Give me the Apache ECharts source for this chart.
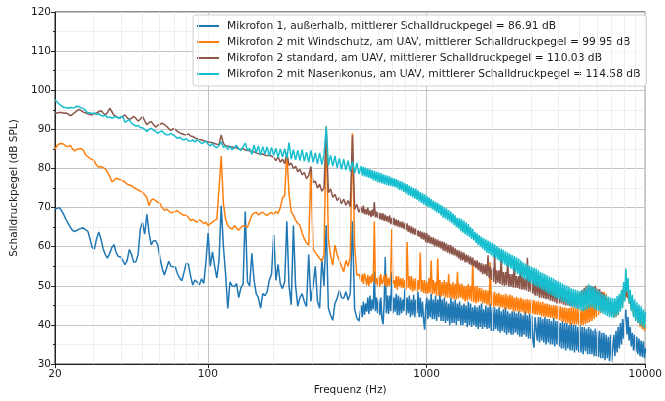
<!DOCTYPE html>
<html>
<head>
<meta charset="utf-8">
<script src="https://cdn.jsdelivr.net/npm/echarts@6/dist/echarts.min.js"></script>
<style>
html, body { margin: 0; padding: 0; background: #fff; }
#main { width: 665px; height: 401px; }
</style>
</head>
<body>
<div id="main"></div>
<script>
// Frequenzraster: bis ~500 Hz 100 Stuetzstellen pro Dekade, darueber 200 pro Dekade
var freqs = [];
for (var s = 0; s < 140; s++) freqs.push(20 * Math.pow(10, s / 100));
for (var s = 280; s <= 540; s++) freqs.push(20 * Math.pow(10, s / 200));

var names = [
  'Mikrofon 1, außerhalb, mittlerer Schalldruckpegel = 86.91 dB',
  'Mikrofon 2 mit Windschutz, am UAV, mittlerer Schalldruckpegel = 99.95 dB',
  'Mikrofon 2 standard, am UAV, mittlerer Schalldruckpegel = 110.03 dB',
  'Mikrofon 2 mit Nasenkonus, am UAV, mittlerer Schalldruckpegel = 114.58 dB'
];
var colors = ['#1f77b4', '#ff7f0e', '#8c564b', '#17becf'];

// Mikrofon 1, aussen
var mic1 = [
  69.7, 69.8, 70.0, 69.2, 68.2, 67.0, 66.0, 65.0, 64.2, 63.9,
  64.2, 64.5, 64.7, 64.8, 64.3, 64.0, 62.0, 59.8, 59.4, 62.0,
  63.8, 62.0, 59.5, 58.0, 57.1, 58.3, 59.8, 60.5, 58.5, 57.5,
  57.4, 56.5, 55.4, 56.5, 59.3, 58.0, 56.0, 56.2, 58.0, 64.5,
  66.2, 63.2, 68.3, 63.5, 60.5, 61.5, 61.6, 60.5, 57.0, 54.5,
  52.8, 54.5, 56.3, 55.0, 54.9, 54.8, 53.1, 52.0, 51.3, 53.5,
  55.8, 55.5, 52.5, 50.2, 51.5, 51.0, 50.2, 51.8, 50.6, 56.0,
  63.5, 55.0, 58.7, 55.0, 52.0, 56.5, 70.5, 60.0, 53.0, 44.2,
  51.0, 50.0, 49.8, 50.6, 47.0, 49.5, 50.5, 69.0, 51.0, 50.0,
  58.3, 51.5, 48.0, 47.0, 44.3, 48.0, 47.5, 48.5, 51.5, 53.0,
  63.0, 51.4, 55.5, 50.5, 49.3, 51.0, 66.5, 50.0, 45.2, 65.4,
  50.0, 44.8, 47.0, 48.0, 46.0, 44.7, 58.0, 46.0, 50.0, 55.0,
  46.0, 44.3, 57.0, 50.0, 65.5, 44.3, 42.5, 41.2, 45.5, 46.8,
  48.9, 47.0, 46.8, 48.5, 46.4, 48.0, 66.5, 44.0, 41.8, 41.0,
  // ab ~500 Hz, halbe Schritte
  45.0, 42.0, 46.0, 42.6, 45.5, 43.4, 47.0, 42.8, 47.5, 43.5,
  46.5, 44.0, 53.6, 43.5, 47.0, 43.0, 46.5, 42.5, 47.0, 41.5,
  40.2, 45.5, 57.4, 43.0, 47.5, 42.8, 47.5, 43.5, 53.6, 43.0,
  47.0, 43.4, 48.0, 42.5, 47.5, 42.5, 47.0, 43.0, 46.5, 43.5,
  49.4, 42.5, 47.0, 43.0, 47.5, 42.0, 46.5, 42.5, 47.7, 42.0,
  46.5, 43.0, 48.5, 42.0, 47.0, 42.0, 46.0, 41.5, 38.8, 44.5,
  47.0, 41.5, 46.5, 42.0, 48.0, 41.5, 46.5, 41.5, 47.5, 41.0,
  46.5, 42.0, 48.5, 41.0, 46.5, 41.0, 47.0, 40.5, 46.0, 41.0,
  45.5, 40.0, 47.0, 40.5, 46.0, 40.5, 46.5, 40.0, 45.5, 41.0,
  46.0, 40.0, 45.0, 40.0, 45.5, 40.5, 45.0, 39.5, 46.0, 40.0,
  45.5, 39.5, 44.5, 40.0, 45.0, 39.5, 44.5, 39.0, 45.0, 39.5,
  45.5, 39.0, 44.0, 39.5, 45.0, 39.0, 44.5, 39.2, 45.5, 38.5,
  44.5, 38.5, 44.5, 39.0, 44.0, 38.5, 44.5, 38.0, 43.5, 38.5,
  44.0, 38.0, 44.5, 37.5, 43.5, 38.0, 43.0, 37.5, 43.5, 37.5,
  43.5, 38.0, 43.0, 37.5, 43.5, 37.0, 43.0, 37.0, 42.5, 37.5,
  43.5, 37.0, 42.5, 36.5, 43.0, 36.5, 42.5, 36.0, 34.2, 42.0,
  42.5, 36.0, 42.0, 35.5, 42.0, 36.0, 41.5, 35.5, 42.0, 35.0,
  41.5, 35.5, 41.5, 35.0, 41.0, 35.0, 41.8, 34.5, 41.0, 35.0,
  41.0, 34.5, 40.5, 34.0, 41.0, 34.0, 40.5, 33.5, 40.5, 34.0,
  40.0, 33.5, 40.5, 33.5, 40.0, 33.0, 40.0, 33.5, 39.5, 33.0,
  40.0, 33.0, 39.5, 32.5, 39.5, 33.3, 39.0, 32.5, 39.5, 32.5,
  39.0, 32.5, 38.5, 32.0, 39.0, 32.0, 38.5, 31.8, 38.5, 31.5,
  38.0, 31.5, 38.0, 31.0, 37.5, 31.5, 37.0, 30.8, 37.5, 30.5,
  30.3, 37.5, 32.0, 38.5, 33.0, 39.5, 34.0, 40.5, 35.0, 41.5,
  36.5, 42.5, 43.9, 37.5, 42.0, 36.0, 39.5, 34.5, 38.0, 33.5,
  37.5, 33.0, 37.0, 32.5, 36.5, 32.0, 36.0, 31.8, 35.8, 31.5,
  34.0
];

// Mikrofon 2 mit Windschutz
var mic2Wind = [
  84.9, 85.9, 86.3, 86.4, 86.2, 85.7, 85.6, 85.9, 85.0, 84.5,
  84.9, 85.0, 85.1, 84.6, 83.5, 83.0, 82.6, 82.3, 81.9, 80.8,
  80.3, 80.5, 80.2, 79.9, 79.1, 78.0, 76.6, 77.0, 77.5, 77.3,
  77.1, 76.9, 76.5, 76.0, 75.8, 75.6, 75.2, 74.8, 74.5, 74.2,
  73.9, 73.3, 72.6, 70.5, 71.9, 72.2, 71.8, 71.4, 71.0, 70.0,
  69.3, 69.6, 69.2, 68.7, 68.8, 69.0, 69.2, 68.7, 68.3, 68.0,
  68.1, 67.5, 66.7, 67.0, 66.6, 66.3, 66.9, 66.5, 65.9, 66.3,
  65.4, 65.9, 66.3, 66.8, 67.0, 75.0, 83.2, 71.0, 67.0, 65.4,
  64.8, 64.5, 65.4, 64.8, 64.2, 64.9, 65.4, 65.2, 65.0, 66.5,
  68.0, 68.6, 68.8, 68.1, 68.6, 68.8, 68.3, 68.0, 68.5, 68.8,
  68.2, 69.0, 68.5, 70.0, 72.5, 73.0, 84.0, 73.5, 69.0, 68.0,
  66.8, 66.0, 65.4, 63.5, 62.0, 61.0, 60.4, 80.0, 59.5, 58.5,
  57.8, 57.0, 56.2, 58.0, 90.8, 62.0, 57.8, 55.3, 60.4, 58.0,
  56.5, 55.0, 53.6, 56.5, 55.0, 57.4, 89.0, 60.4, 52.7, 53.0,
  // ab ~500 Hz, halbe Schritte
  51.1, 53.0, 50.5, 53.2, 51.9, 50.2, 52.8, 50.0, 52.5, 50.6,
  53.0, 51.0, 66.5, 50.5, 52.0, 50.0, 52.6, 49.8, 53.0, 50.4,
  51.1, 52.7, 50.0, 53.0, 49.8, 52.0, 50.0, 53.0, 64.5, 50.5,
  51.5, 49.5, 52.5, 49.0, 52.5, 49.8, 52.0, 49.4, 52.0, 49.5,
  51.5, 49.0, 61.2, 49.5, 52.5, 49.0, 52.5, 48.5, 51.8, 48.8,
  52.0, 48.5, 51.5, 49.0, 58.5, 48.5, 51.5, 48.2, 51.5, 48.0,
  51.0, 48.0, 52.0, 48.2, 56.5, 47.8, 51.5, 48.0, 51.0, 47.5,
  57.0, 47.5, 51.5, 47.2, 51.0, 47.5, 51.5, 47.0, 51.0, 47.0,
  53.0, 47.0, 50.5, 46.8, 51.0, 46.5, 50.5, 46.5, 53.6, 46.8,
  50.5, 47.0, 50.5, 46.5, 50.0, 46.0, 50.0, 46.2, 50.5, 46.5,
  50.0, 46.0, 56.0, 45.8, 49.8, 45.5, 50.0, 45.8, 49.5, 46.0,
  49.5, 45.5, 49.0, 45.5, 49.0, 45.2, 48.8, 45.0, 56.0, 45.0,
  48.5, 44.5, 48.5, 44.8, 48.0, 44.8, 48.2, 44.5, 47.8, 44.5,
  47.7, 44.0, 48.0, 44.2, 47.5, 43.9, 47.8, 44.0, 47.5, 43.5,
  47.0, 43.5, 47.2, 43.5, 46.9, 43.2, 47.0, 43.4, 46.6, 43.0,
  46.5, 43.0, 46.6, 42.8, 46.5, 43.0, 46.4, 42.8, 46.4, 42.6,
  46.0, 42.6, 46.2, 42.5, 45.8, 42.2, 45.9, 42.2, 45.5, 42.0,
  45.5, 42.0, 45.3, 41.8, 45.1, 41.8, 45.0, 41.5, 45.0, 41.5,
  44.8, 41.2, 44.8, 41.0, 44.5, 40.8, 44.5, 40.5, 44.3, 40.5,
  44.3, 40.0, 44.5, 40.2, 44.5, 40.0, 44.3, 40.2, 44.3, 40.0,
  44.0, 40.0, 44.2, 40.0, 44.5, 40.2, 44.8, 40.5, 45.5, 40.8,
  45.5, 41.0, 46.2, 41.5, 47.0, 42.0, 47.5, 42.5, 48.0, 43.0,
  48.5, 43.5, 48.5, 44.0, 48.0, 43.5, 47.0, 43.0, 46.0, 42.5,
  45.0, 42.0, 44.5, 42.0, 45.5, 42.5, 46.5, 44.0, 48.0, 45.0,
  50.0, 46.5, 51.5, 47.0, 49.0, 45.5, 46.5, 44.0, 45.0, 42.5,
  44.0, 41.5, 43.0, 40.5, 42.5, 39.5, 41.5, 39.0, 40.8, 38.5,
  40.0
];

// Mikrofon 2 standard
var mic2Std = [
  94.2, 94.2, 94.3, 94.3, 94.1, 94.2, 93.9, 93.5, 93.8, 94.3,
  94.7, 95.1, 94.8, 94.4, 94.2, 94.0, 93.8, 93.7, 93.9, 94.2,
  94.5, 94.8, 94.2, 93.7, 94.3, 95.4, 94.5, 93.6, 93.3, 93.0,
  92.9, 93.3, 93.7, 93.0, 92.5, 92.9, 93.3, 92.8, 92.1, 92.6,
  93.3, 92.2, 91.2, 91.7, 92.0, 91.2, 90.6, 91.0, 91.3, 91.6,
  91.2, 90.8, 90.2, 89.7, 90.2, 90.0, 89.5, 89.1, 88.9, 88.7,
  88.6, 88.8, 88.3, 88.2, 87.8, 87.6, 87.4, 87.3, 87.1, 87.0,
  86.8, 86.7, 86.6, 86.4, 86.2, 86.1, 88.6, 86.4, 85.8, 85.7,
  85.6, 85.5, 85.3, 85.3, 85.0, 84.9, 85.1, 84.7, 84.6, 84.5,
  84.4, 84.2, 84.0, 83.8, 83.6, 83.7, 83.4, 83.3, 83.3, 83.2,
  82.8, 82.0, 83.0, 81.6, 82.4, 81.2, 84.0, 80.8, 81.4, 80.0,
  80.6, 79.2, 79.8, 78.4, 79.0, 77.4, 78.2, 80.5, 76.4, 76.8,
  75.0, 76.0, 74.2, 75.0, 90.0, 73.8, 74.8, 72.6, 73.4, 71.8,
  72.6, 71.0, 72.2, 70.6, 71.8, 70.2, 88.5, 69.6, 70.8, 68.8,
  // ab ~500 Hz, halbe Schritte
  70.2, 68.6, 70.5, 68.3, 69.6, 68.2, 70.0, 68.0, 69.2, 67.6,
  69.5, 67.8, 71.4, 67.5, 69.0, 67.4, 68.8, 67.0, 68.6, 66.8,
  68.5, 66.6, 68.2, 66.5, 67.8, 66.2, 68.0, 65.8, 67.4, 65.6,
  67.4, 65.4, 67.0, 65.2, 66.8, 65.0, 66.4, 64.8, 66.4, 64.5,
  66.0, 64.2, 66.0, 63.8, 65.4, 63.5, 65.2, 63.2, 64.8, 63.0,
  64.6, 62.8, 64.2, 62.5, 64.0, 62.0, 63.8, 61.8, 63.6, 61.2,
  63.5, 61.0, 63.0, 60.8, 62.5, 60.6, 62.4, 60.2, 62.0, 60.0,
  61.8, 59.8, 61.5, 59.5, 61.4, 59.0, 61.2, 58.8, 60.8, 58.5,
  60.5, 58.2, 60.4, 58.0, 60.0, 57.8, 59.6, 57.5, 59.2, 57.0,
  59.0, 56.5, 58.7, 56.5, 58.5, 56.0, 58.0, 56.0, 57.8, 55.5,
  57.5, 55.2, 57.2, 55.0, 56.5, 54.5, 56.5, 54.0, 56.0, 53.5,
  55.8, 53.0, 55.5, 53.0, 55.5, 52.5, 57.8, 52.0, 55.0, 51.5,
  54.5, 51.0, 58.0, 50.5, 54.0, 50.8, 54.0, 50.5, 57.5, 50.2,
  53.5, 50.0, 53.5, 50.2, 57.0, 49.8, 53.0, 49.8, 53.0, 49.6,
  56.5, 49.5, 52.5, 49.5, 52.5, 49.2, 55.8, 49.0, 52.2, 49.0,
  52.0, 48.8, 57.2, 48.5, 51.8, 48.5, 51.5, 48.0, 51.5, 47.5,
  51.5, 47.5, 51.2, 47.0, 51.0, 47.0, 50.8, 46.8, 50.5, 46.6,
  50.4, 46.5, 50.2, 46.2, 50.0, 46.0, 49.8, 45.8, 49.8, 45.5,
  49.5, 45.5, 49.2, 45.5, 49.0, 45.2, 48.8, 45.0, 48.5, 45.0,
  48.5, 44.8, 48.2, 44.8, 48.2, 44.5, 48.0, 44.5, 48.0, 44.5,
  48.5, 45.0, 49.0, 45.5, 49.5, 46.0, 50.0, 46.5, 50.2, 47.0,
  50.0, 47.0, 49.8, 46.8, 50.0, 46.5, 49.5, 46.0, 49.2, 45.5,
  48.5, 45.0, 48.0, 44.5, 47.0, 44.0, 46.0, 43.5, 45.5, 43.0,
  45.0, 43.0, 45.0, 43.5, 45.5, 44.0, 47.0, 45.0, 47.5, 46.0,
  49.4, 47.0, 50.3, 47.5, 48.0, 46.5, 46.5, 45.0, 45.5, 44.5,
  45.0, 43.5, 44.5, 43.0, 44.0, 42.5, 43.5, 42.0, 43.0, 42.0,
  41.8
];

// Mikrofon 2 mit Nasenkonus
var mic2Nase = [
  97.5, 97.0, 96.4, 96.0, 95.6, 95.6, 95.4, 95.6, 95.5, 95.6,
  95.9, 95.8, 95.5, 95.3, 94.8, 94.2, 94.3, 94.0, 94.2, 93.8,
  94.0, 93.6, 93.4, 93.6, 93.0, 93.2, 92.9, 93.1, 93.3, 92.8,
  93.2, 93.3, 91.8, 92.2, 92.5, 91.5, 91.2, 90.8, 91.0, 90.5,
  90.4, 90.0, 89.5, 90.0, 90.3, 89.8, 89.5, 89.0, 89.4, 89.6,
  88.9, 88.6, 88.6, 89.0, 88.6, 88.2, 87.7, 88.0, 87.5, 87.3,
  87.6, 87.1, 87.0, 87.3, 86.8, 87.3, 86.9, 86.4, 86.6, 87.0,
  86.2, 85.8, 86.4, 85.6, 85.3, 85.9, 86.8, 85.4, 85.7, 84.9,
  85.6, 84.8, 85.4, 85.9, 85.0, 84.6, 85.5, 86.5, 84.6, 85.2,
  83.6, 86.0, 84.0, 85.8, 83.4, 85.6, 83.6, 85.5, 83.2, 85.4,
  83.4, 85.2, 82.8, 85.0, 83.0, 85.0, 82.6, 86.6, 82.4, 84.8,
  82.2, 84.6, 82.0, 84.8, 81.8, 84.2, 81.6, 84.6, 81.6, 84.0,
  81.2, 84.0, 81.0, 83.6, 90.8, 80.8, 83.4, 80.6, 83.2, 80.2,
  82.6, 79.8, 82.4, 79.6, 82.0, 79.2, 81.8, 78.8, 81.4, 78.6,
  // ab ~500 Hz, halbe Schritte
  80.6, 78.2, 80.4, 78.0, 80.2, 77.8, 80.0, 77.6, 79.8, 77.4,
  79.6, 77.0, 79.4, 76.8, 79.2, 76.5, 79.0, 76.4, 78.8, 76.2,
  78.5, 76.0, 78.4, 75.8, 78.2, 75.6, 78.0, 75.5, 77.7, 75.4,
  77.5, 75.2, 77.3, 75.0, 77.0, 74.5, 76.8, 74.4, 76.6, 74.0,
  76.2, 73.6, 76.0, 73.2, 75.6, 73.0, 75.3, 72.6, 75.0, 72.3,
  74.8, 72.0, 74.4, 71.6, 74.0, 71.2, 73.7, 70.8, 73.4, 70.5,
  73.0, 70.2, 72.6, 70.0, 72.2, 69.6, 71.8, 69.2, 71.5, 68.8,
  71.2, 68.5, 70.8, 68.0, 70.5, 67.4, 70.1, 67.2, 69.8, 66.8,
  69.4, 66.4, 69.0, 66.0, 68.5, 65.5, 68.0, 65.0, 67.4, 64.6,
  67.3, 64.0, 67.0, 63.6, 66.6, 63.2, 66.2, 62.8, 65.8, 62.5,
  65.0, 62.0, 64.6, 61.6, 63.8, 61.0, 63.4, 60.4, 63.0, 60.0,
  62.6, 59.5, 62.2, 59.0, 61.9, 58.5, 61.6, 58.2, 61.3, 57.8,
  61.0, 57.4, 60.6, 57.0, 60.2, 56.6, 59.8, 56.2, 59.5, 55.8,
  59.2, 55.4, 58.8, 55.0, 58.5, 54.8, 58.2, 54.4, 57.9, 54.0,
  57.6, 53.5, 57.3, 53.0, 57.0, 52.6, 56.5, 52.2, 56.0, 51.8,
  55.7, 51.4, 55.4, 51.0, 55.1, 50.8, 54.8, 50.4, 54.6, 50.0,
  54.4, 49.7, 54.0, 49.4, 53.6, 49.0, 53.3, 48.8, 53.0, 48.4,
  52.7, 48.0, 52.4, 47.7, 52.2, 47.4, 51.9, 47.0, 51.5, 46.8,
  51.2, 46.5, 50.9, 46.2, 50.6, 45.9, 50.3, 45.6, 50.0, 45.2,
  49.7, 44.8, 49.4, 44.6, 49.2, 44.4, 49.0, 44.2, 48.8, 44.0,
  48.6, 43.8, 48.8, 43.5, 49.0, 43.8, 49.6, 44.0, 50.4, 44.3,
  50.0, 44.5, 49.8, 44.0, 49.4, 43.8, 49.0, 43.5, 48.6, 43.2,
  48.0, 42.9, 47.8, 42.6, 47.6, 42.3, 47.3, 42.0, 47.0, 41.9,
  46.8, 41.8, 46.8, 42.2, 47.4, 42.6, 48.0, 43.4, 49.0, 44.3,
  51.0, 46.0, 54.4, 48.5, 52.0, 45.5, 49.0, 43.5, 47.7, 42.0,
  46.5, 41.0, 45.8, 40.5, 45.2, 40.0, 44.8, 39.6, 44.0, 39.2,
  43.4
];

// Nebengitterlinien der log. Frequenzachse
var minorFreqs = [30, 40, 50, 60, 70, 80, 90, 200, 300, 400, 500, 600, 700, 800, 900,
  2000, 3000, 4000, 5000, 6000, 7000, 8000, 9000];

var font = 'DejaVu Sans';
var fs = 10.5;

function pairs(vals) {
  return freqs.map(function (f, k) { return [f, vals[k]]; });
}

var allVals = [mic1, mic2Wind, mic2Std, mic2Nase];
var series = [{
  type: 'line',
  data: [],
  silent: true,
  z: 1,
  markLine: {
    silent: true,
    symbol: ['none', 'none'],
    label: { show: false },
    lineStyle: { color: '#ebebeb', width: 0.8, type: 'solid' },
    data: minorFreqs.map(function (f) { return { xAxis: f }; })
  }
}];
allVals.forEach(function (vals, k) {
  series.push({
    name: names[k],
    type: 'line',
    data: pairs(vals),
    symbol: 'none',
    color: colors[k],
    lineStyle: { width: 1.5, color: colors[k] },
    z: 2 + k
  });
});

var myChart = echarts.init(document.getElementById('main'));
myChart.setOption({
  animation: false,
  backgroundColor: '#fff',
  textStyle: { fontFamily: font },
  grid: {
    left: 55, right: 16, top: 12, bottom: 35,
    show: true, borderColor: '#222', borderWidth: 1, backgroundColor: 'transparent'
  },
  legend: {
    orient: 'vertical',
    left: 193,
    top: 15,
    data: names,
    icon: 'rect',
    itemWidth: 22,
    itemHeight: 2,
    itemGap: 4,
    padding: [5, 6, 6, 4],
    backgroundColor: 'rgba(255,255,255,0.85)',
    borderColor: '#d0d0d0',
    borderWidth: 1,
    borderRadius: 3,
    textStyle: { fontFamily: font, fontSize: 10.7, lineHeight: 12, color: '#1a1a1a', padding: [0, 0, 0, 3] }
  },
  xAxis: {
    type: 'log',
    logBase: 10,
    min: 20,
    max: 10000,
    name: 'Frequenz (Hz)',
    nameLocation: 'middle',
    nameGap: 19,
    nameTextStyle: { fontFamily: font, fontSize: fs, color: '#1a1a1a' },
    axisLine: { lineStyle: { color: '#222', width: 1 } },
    axisTick: { show: true, length: 4, lineStyle: { color: '#222' } },
    axisLabel: {
      fontFamily: font, fontSize: fs, color: '#1a1a1a', margin: 5,
      formatter: function (v) { return String(Math.round(v)); }
    },
    splitLine: { show: true, lineStyle: { color: '#c4c4c4', width: 1 } }
  },
  yAxis: {
    type: 'value',
    min: 30,
    max: 120,
    interval: 10,
    name: 'Schalldruckpegel (dB SPL)',
    nameLocation: 'middle',
    nameGap: 31,
    nameTextStyle: { fontFamily: font, fontSize: fs, color: '#1a1a1a' },
    axisLine: { show: true, lineStyle: { color: '#222', width: 1 } },
    axisTick: { show: true, length: 4, lineStyle: { color: '#222' } },
    minorTick: { show: true, splitNumber: 2, length: 2, lineStyle: { color: '#222' } },
    minorSplitLine: { show: true, lineStyle: { color: '#ebebeb', width: 0.8 } },
    axisLabel: { fontFamily: font, fontSize: fs, color: '#1a1a1a', margin: 4 },
    splitLine: { show: true, lineStyle: { color: '#c4c4c4', width: 1 } }
  },
  series: series
});
</script>
</body>
</html>
